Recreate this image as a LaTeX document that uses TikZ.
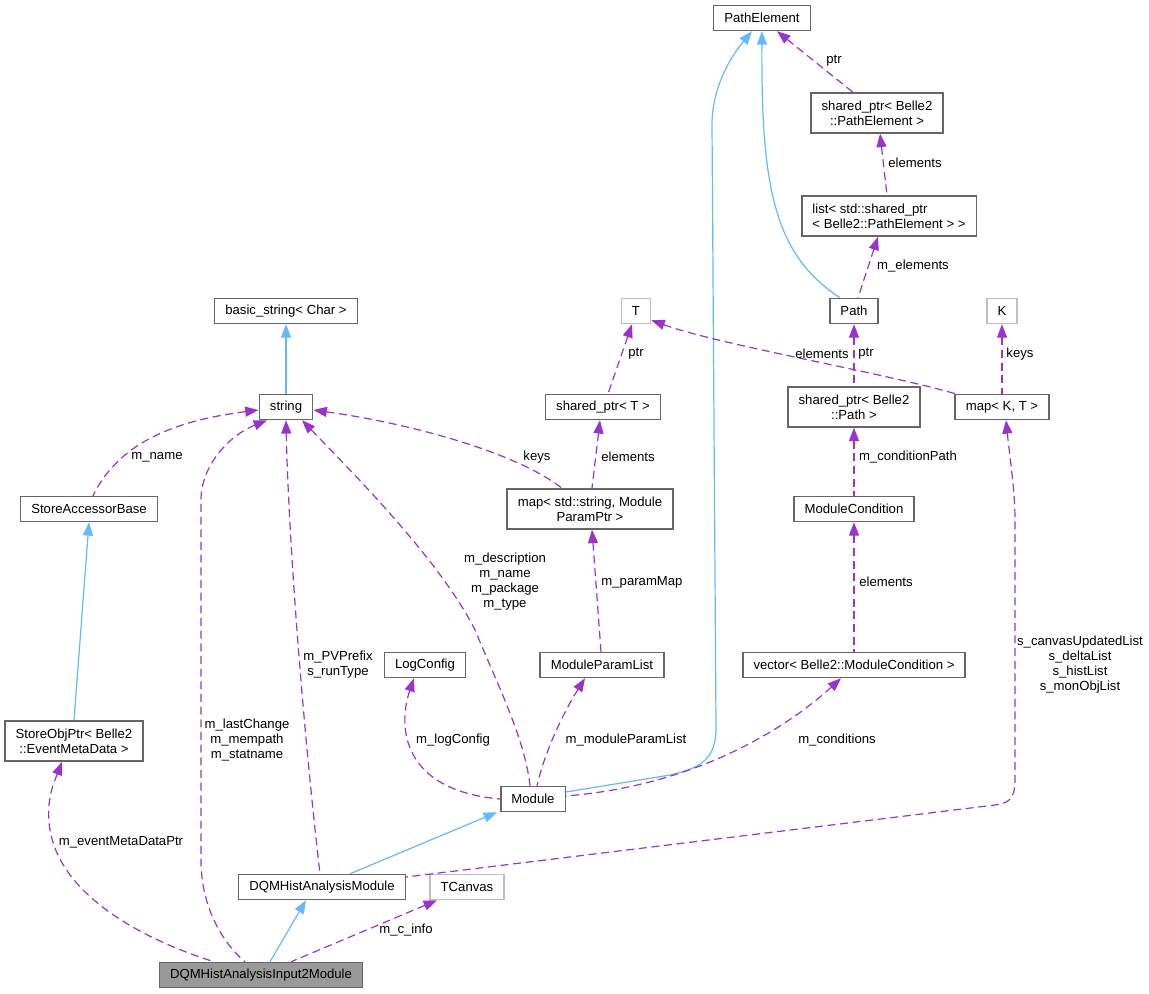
\documentclass[tikz,border=0pt]{standalone}
\usepackage{fontspec}
\setmainfont{Liberation Sans}
\usetikzlibrary{arrows.meta}
\definecolor{boxline}{HTML}{666666}
\definecolor{extline}{HTML}{BFBFBF}
\definecolor{curfill}{HTML}{999999}
\definecolor{inhblue}{HTML}{63B8FF}
\definecolor{usepurple}{HTML}{9A32CD}
\newcommand{\dqm}     {DQMHistAnalysis}
\newcommand{\bl}      {Belle2}
\newcommand{\dgfont}  {\fontsize{9.86}{11.25}\selectfont}

\begin{document}
\begin{tikzpicture}[x=0.75pt,y=-0.75pt,
   cls/.style={draw=boxline,line width=1.1pt,font=\dgfont,inner xsep=8pt,inner ysep=4.7pt,
      minimum height=18.75pt,align=center},
   two/.style={cls,minimum height=30pt},
   ext/.style={cls,draw=extline},
   cur/.style={cls,fill=curfill},
   lbl/.style={font=\dgfont,align=center,inner sep=0pt},
   inherit/.style={draw=inhblue,line width=0.9pt,{Triangle[length=10pt,width=7.5pt]}-},
   member/.style={draw=usepurple,line width=0.9pt,dash pattern=on 6pt off 3.5pt,
      {Triangle[length=10pt,width=7.5pt]}-}]
   \useasboundingbox (0,0) rectangle (1149,993);
   \node[cls] (PE)       at (762, 18) {PathElement};
   \node[two] (sptrPE)   at (877,113) {shared\_ptr< \bl\\::PathElement >};
   \node[two,align=left] (listPE) at (889,216) {list< std::shared\_ptr\\< \bl::PathElement > >};
   \node[ext] (T)        at (636,311) {T};
   \node[cls] (path)     at (854,311) {Path};
   \node[ext] (K)        at (1002,311) {K};
   \node[cls] (bstr)     at (286,311) {basic\_string< Char >};
   \node[cls] (str)      at (286,407) {string};
   \node[cls] (sptrT)    at (603,407) {shared\_ptr< T >};
   \node[two] (sptrPath) at (854,407) {shared\_ptr< \bl\\::Path >};
   \node[cls] (mapKT)    at (1002,407) {map< K, T >};
   \node[cls] (sab)      at (89,509) {StoreAccessorBase};
   \node[two] (mapSM)    at (590,509) {map< std::string, Module\\ParamPtr >};
   \node[cls] (mcond)    at (854,509) {ModuleCondition};
   \node[cls] (logc)     at (425,665) {LogConfig};
   \node[cls] (mpl)      at (602,665) {ModuleParamList};
   \node[cls] (vcond)    at (854,665) {vector< \bl::ModuleCondition >};
   \node[two] (sop)      at (74,741) {StoreObjPtr< \bl\\::EventMetaData >};
   \node[cls] (mod)      at (533,799) {Module};
   \node[cls] (dqmh)     at (322,887) {\dqm Module};
   \node[ext] (tcan)     at (467,887) {TCanvas};
   \node[cur] (input)    at (261,975) {\dqm Input2Module};

   \draw[inherit] (bstr) -- (str);
   \draw[inherit] (sab.south) -- (sop.north);
   \draw[inherit] ([xshift=-7.5pt]PE.south) .. controls (728,60) and (712,90) .. (712,125)
      -- (716,725) .. controls (717,760) and (700,768) .. (670,775) -- ([yshift=5.25pt]mod.east);
   \draw[inherit] (PE.south) .. controls (761,190) and (775,255) .. ([xshift=-10.5pt]path.north);
   \draw[inherit] ([xshift=-27pt]mod.south) -- ([xshift=21pt]dqmh.north);
   \draw[inherit] ([xshift=-12pt]dqmh.south) -- ([xshift=6.75pt]input.north);

   \draw[member] ([xshift=11.25pt]PE.south) -- ([xshift=-18pt]sptrPE.north);
   \draw (834, 61) node[lbl] (lPtrA) {ptr};
   \draw[member] ([xshift=2.25pt]sptrPE.south) -- ([xshift=-1.5pt]listPE.north);
   \draw (915,163) node[lbl] (lElemA) {elements};
   \draw[member] ([xshift=-8.25pt]listPE.south) -- ([xshift=3pt]path.north);
   \draw (913,266) node[lbl] (lMElem) {m\_elements};
   \draw[member] ([xshift=-3pt]T.south) -- ([xshift=3.75pt]sptrT.north);
   \draw (636,354) node[lbl] (lPtrB) {ptr};
   \draw[member] ([yshift=3pt]T.south east) .. controls (720,345) and (880,372)
      .. ([xshift=0.75pt]mapKT.north west);
   \draw (822,354) node[lbl] (lElemB) {elements};
   \draw[member] (path) -- (sptrPath);
   \draw (866,354) node[lbl] (lPtrC) {ptr};
   \draw[member] (K) -- (mapKT);
   \draw (1020,354) node[lbl] (lKeysA) {keys};
   \draw[member] ([yshift=-2.25pt]str.east) .. controls (420,425) and (520,455)
      .. ([xshift=-21pt]mapSM.north);
   \draw (537,457) node[lbl] (lKeysB) {keys};
   \draw[member] ([xshift=-2.25pt]sptrT.south) -- ([xshift=1.5pt]mapSM.north);
   \draw (628,457) node[lbl] (lElemC) {elements};
   \draw[member] ([xshift=1.5pt]mapSM.south) -- ([xshift=-0.75pt]mpl.north);
   \draw (642,582) node[lbl] (lPMap) {m\_paramMap};
   \draw[member] (sptrPath) -- (mcond);
   \draw (908,457) node[lbl] (lCPath) {m\_conditionPath};
   \draw[member] (mcond) -- (vcond);
   \draw (886,582) node[lbl] (lElemD) {elements};
   \draw[member] ([xshift=-8.25pt]logc.south) .. controls (398,725) and (400,790) .. (mod.west);
   \draw (453,740) node[lbl] (lLog) {m\_logConfig};
   \draw[member] ([xshift=-12.75pt]mpl.south) .. controls (565,710) and (545,750)
      .. ([xshift=3pt]mod.north);
   \draw (626,740) node[lbl] (lMPL) {m\_moduleParamList};
   \draw[member] ([xshift=-9.75pt]vcond.south) .. controls (790,725) and (700,785)
      .. ([yshift=2.25pt]mod.east);
   \draw (837,740) node[lbl] (lCond) {m\_conditions};
   \draw[member] ([xshift=12pt]str.south) .. controls (350,470) and (440,560) .. (475,630)
      .. controls (500,690) and (525,740) .. ([xshift=-2.25pt]mod.north);
   \draw (505,582) node[lbl] (lDesc) {m\_description\\m\_name\\m\_package\\m\_type};
   \draw[member] (str.south) .. controls (288,520) and (300,700) .. ([xshift=-1.5pt]dqmh.north);
   \draw (338,665) node[lbl] (lPV) {m\_PVPrefix\\s\_runType};
   \draw[member] ([xshift=-14.25pt]str.south) .. controls (230,435) and (201,465) .. (201,500)
      -- (201,860) .. controls (201,910) and (225,945) .. ([xshift=-12pt]input.north);
   \draw (247,740) node[lbl] (lLast) {m\_lastChange\\m\_mempath\\m\_statname};
   \draw[member] ([yshift=-2.25pt]str.west) .. controls (180,420) and (120,440)
      .. ([xshift=3pt]sab.north);
   \draw (157,457) node[lbl] (lName) {m\_name};
   \draw[member] ([xshift=-9pt]sop.south) .. controls (55,780) and (45,800) .. (50,830)
      .. controls (60,890) and (130,935) .. ([xshift=-35.25pt]input.north);
   \draw (121,842) node[lbl] (lEvt) {m\_eventMetaDataPtr};
   \draw[member] ([xshift=-22.5pt]tcan.south) -- ([xshift=22.5pt]input.north);
   \draw (406,930) node[lbl] (lInfo) {m\_c\_info};
   \draw[member] ([xshift=3pt]mapKT.south) .. controls (1010,460) and (1015,490) .. (1015,520)
      -- (1015,780) .. controls (1015,800) and (1008,803) .. (995,805) -- ([yshift=7.5pt]dqmh.east);
   \draw (1080,665) node[lbl] (lList) {s\_canvasUpdatedList\\s\_deltaList\\s\_histList\\s\_monObjList};
\end{tikzpicture}
\end{document}
